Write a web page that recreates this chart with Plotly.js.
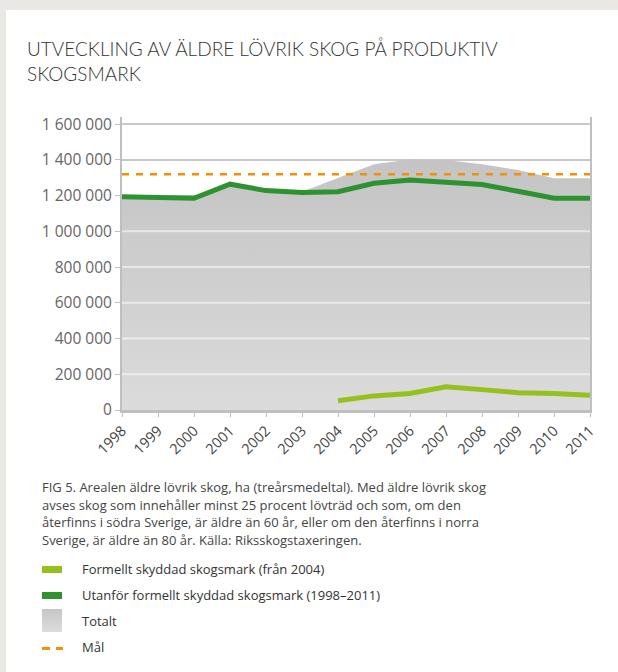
<!DOCTYPE html>
<html>
<head>
<meta charset="utf-8">
<script src="https://cdn.plot.ly/plotly-3.0.1.min.js"></script>
<style>
  html, body { margin:0; padding:0; }
  body { width:618px; height:672px; background:#e9e8e4; position:relative; overflow:hidden; font-family:"Open Sans", sans-serif; }
  #card { position:absolute; left:6px; top:10px; width:612px; height:662px; background:#ffffff; }
  #chart { position:absolute; left:0; top:0; width:618px; height:672px; }
  #caption { position:absolute; left:42px; top:479px; width:520px; font-size:13px; line-height:17.5px; color:#444; white-space:nowrap; }
  .sw { position:absolute; left:42px; }
  .lt { position:absolute; left:82px; font-size:13px; color:#333; line-height:18px; }
</style>
</head>
<body>
<div id="card"></div>
<div id="chart"></div>
<div id="caption">FIG 5. Arealen äldre lövrik skog, ha (treårsmedeltal). Med äldre lövrik skog<br>avses skog som innehåller minst 25 procent lövträd och som, om den<br>återfinns i södra Sverige, är äldre än 60 år, eller om den återfinns i norra<br>Sverige, är äldre än 80 år. Källa: Riksskogstaxeringen.</div>

<div class="sw" style="top:566px;width:20px;height:7px;background:#95c11f"></div>
<div class="lt" style="top:560px">Formellt skyddad skogsmark (från 2004)</div>
<div class="sw" style="top:592px;width:20px;height:7px;background:#2e9230"></div>
<div class="lt" style="top:586px">Utanför formellt skyddad skogsmark (1998–2011)</div>
<div class="sw" style="top:609px;width:20px;height:23px;background:linear-gradient(#c6c6c6,#dcdcdc)"></div>
<div class="lt" style="top:612px">Totalt</div>
<div class="sw" style="top:647px;width:8px;height:2.5px;background:#f39200"></div>
<div class="sw" style="top:647px;left:56px;width:7px;height:2.5px;background:#f39200"></div>
<div class="lt" style="top:638px">Mål</div>

<script>
const years = [1998, 1999, 2000, 2001, 2002, 2003, 2004, 2005, 2006, 2007, 2008, 2009, 2010, 2011];
const utanfor = [1193000, 1190000, 1185000, 1264000, 1228000, 1217000, 1222000, 1269000, 1288000, 1275000, 1262000, 1224000, 1185000, 1185000];
const formelltYears = [2004, 2005, 2006, 2007, 2008, 2009, 2010, 2011];
const formellt = [52000, 79000, 92000, 130000, 114000, 97000, 92000, 83000];
const totalt = [1196000, 1193000, 1188000, 1266000, 1231000, 1222000, 1300000, 1375000, 1402000, 1400000, 1376000, 1343000, 1297000, 1297000];
const malYears = [1998, 2011];
const mal = [1320000, 1320000];
const yTicks = [0, 200000, 400000, 600000, 800000, 1000000, 1200000, 1400000, 1600000];
const innerGrid = [200000, 400000, 600000, 800000, 1000000];

const traces = [
  {
    x: years, y: totalt, type: 'scatter', mode: 'lines', name: 'Totalt',
    line: { width: 0, color: '#c8c8c8' }, fill: 'tozeroy',
    fillgradient: { type: 'vertical', colorscale: [[0, '#dbdbdb'], [1, '#c4c4c4']] },
    hoverinfo: 'skip'
  },
  {
    x: malYears, y: mal, type: 'scatter', mode: 'lines', name: 'Mål',
    line: { color: '#f39200', width: 2.5, dash: '7px,7px' }
  },
  {
    x: years, y: utanfor, type: 'scatter', mode: 'lines', name: 'Utanför formellt skyddad skogsmark (1998–2011)',
    line: { color: '#2e9230', width: 5 }
  },
  {
    x: formelltYears, y: formellt, type: 'scatter', mode: 'lines', name: 'Formellt skyddad skogsmark (från 2004)',
    line: { color: '#95c11f', width: 5 }
  }
];

const shapes = innerGrid.map(v => ({
  type: 'line', xref: 'paper', x0: 0, x1: 1, yref: 'y', y0: v, y1: v,
  line: { color: 'rgba(255,255,255,0.55)', width: 2 }, layer: 'above'
}));

const layout = {
  width: 618, height: 672,
  paper_bgcolor: 'rgba(0,0,0,0)', plot_bgcolor: '#ffffff',
  margin: { l: 122, r: 28, t: 117, b: 262 },
  separators: ', ',
  showlegend: false,
  font: { family: '"Open Sans", sans-serif', color: '#555' },
  title: {
    text: 'UTVECKLING AV ÄLDRE LÖVRIK SKOG PÅ PRODUKTIV<br>SKOGSMARK',
    xref: 'container', yref: 'container', x: 27 / 618, xanchor: 'left',
    y: 1 - 56 / 672, yanchor: 'top',
    font: { family: 'Lato, "Open Sans", sans-serif', size: 19, weight: 300, color: '#333' }
  },
  xaxis: {
    range: [1998, 2011], tickvals: years, tickangle: -45,
    showgrid: false, zeroline: false,
    showline: true, linecolor: '#bfbfbf', linewidth: 2.5,
    ticks: 'outside', ticklen: 4, tickcolor: '#bfbfbf', tickwidth: 1,
    tickfont: { size: 14.5, color: '#444' }
  },
  yaxis: {
    range: [0, 1640000], tickvals: yTicks, tickformat: ',d',
    showgrid: true, gridcolor: '#c8c8c8', gridwidth: 2, zeroline: false,
    showline: true, mirror: true, linecolor: '#bfbfbf', linewidth: 2,
    ticks: 'outside', ticklen: 5, tickcolor: '#bfbfbf', tickwidth: 1,
    tickfont: { size: 15.5, color: '#666' }
  },
  shapes: shapes
};

Plotly.newPlot('chart', traces, layout, { displayModeBar: false, staticPlot: true });
</script>
</body>
</html>
